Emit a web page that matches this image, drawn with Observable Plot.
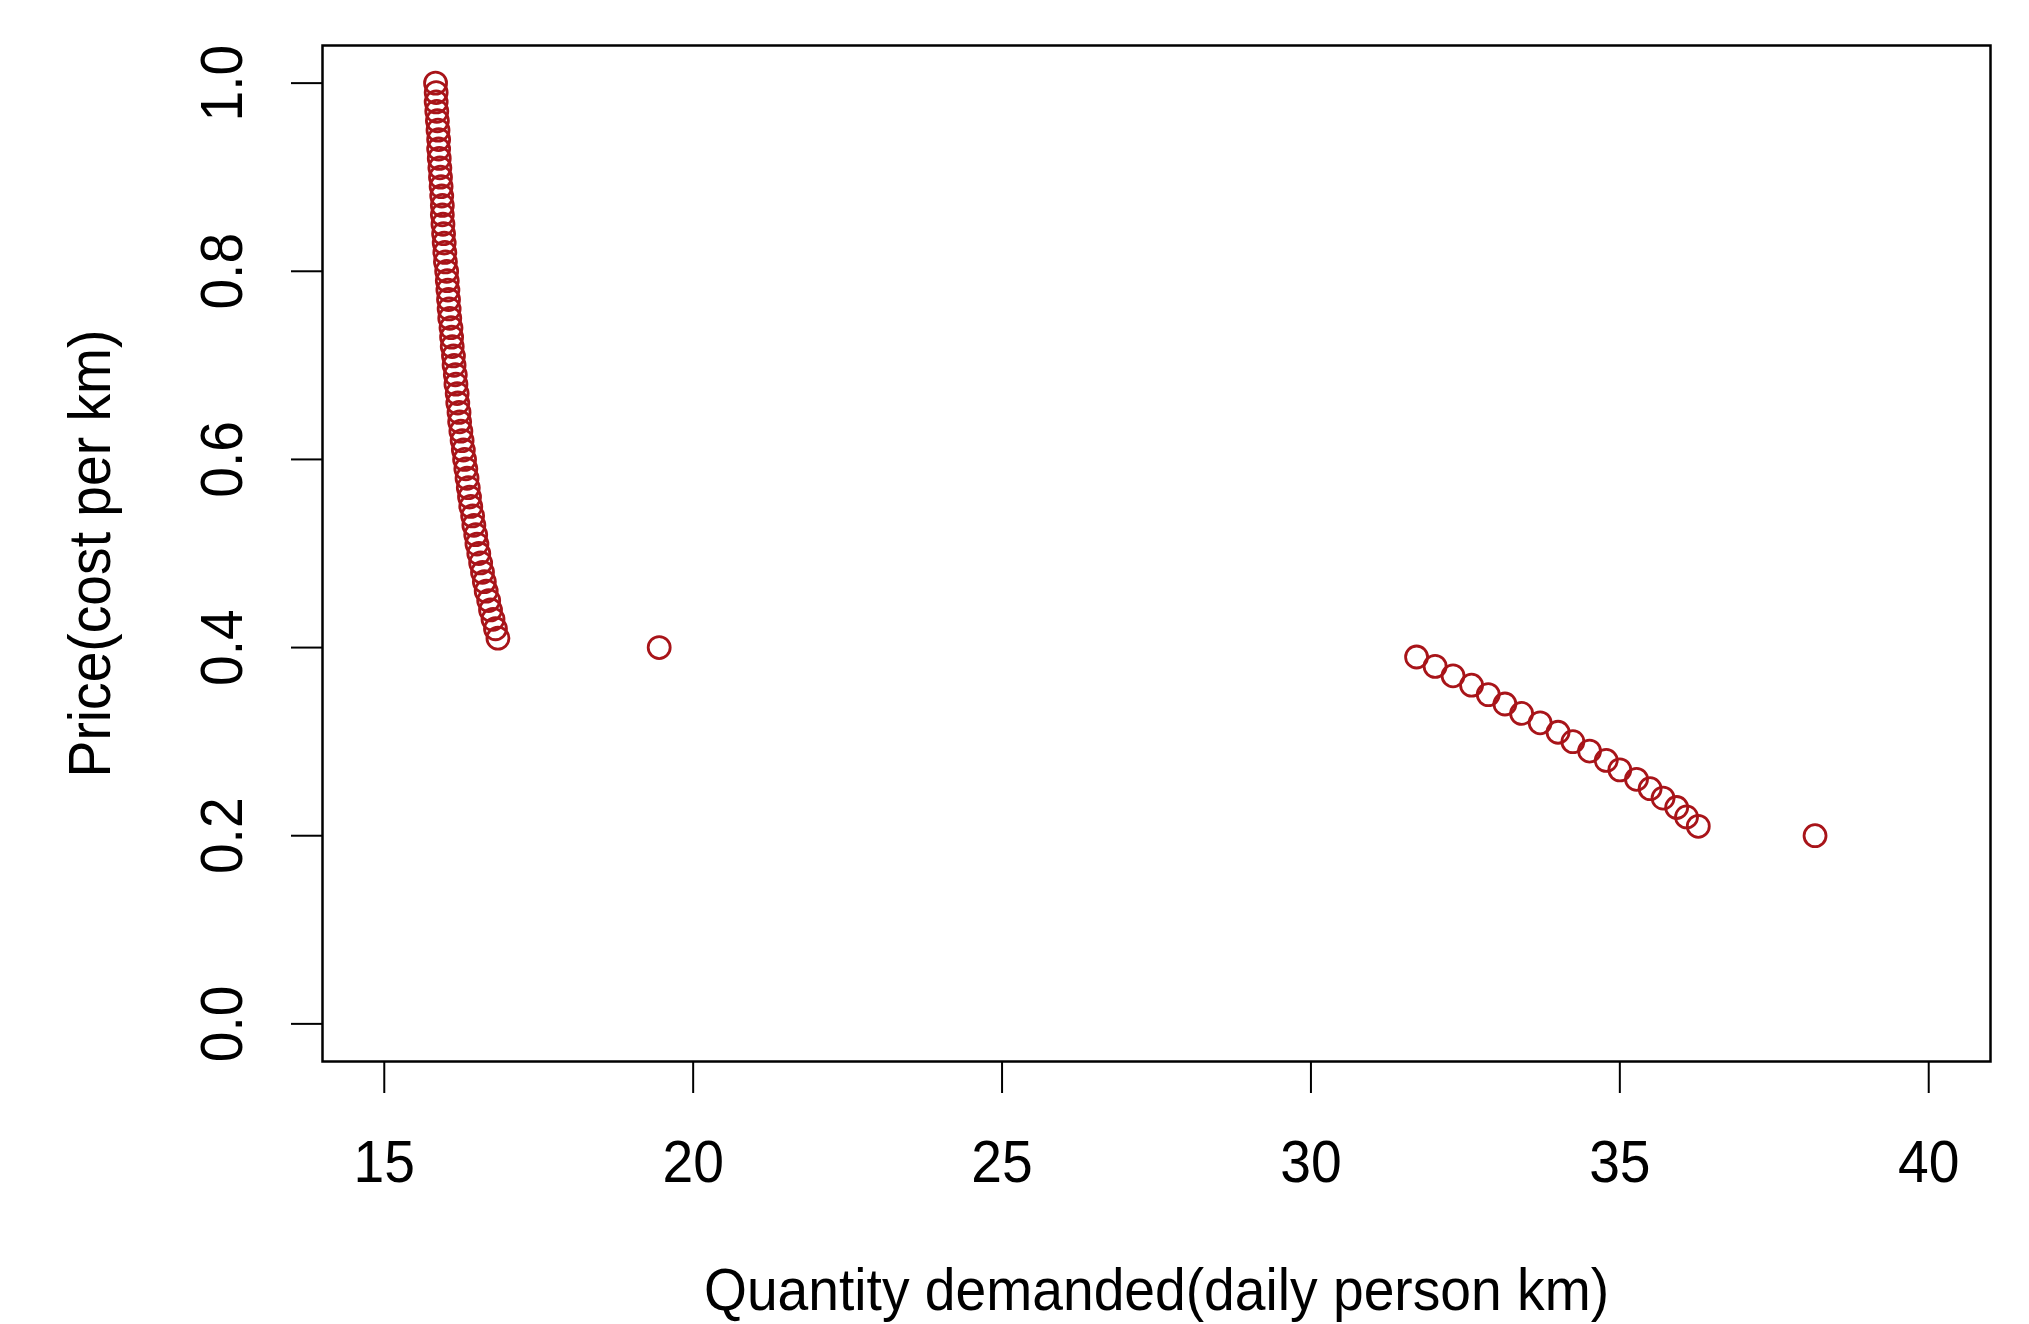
<!DOCTYPE html>
<html>
<head>
<meta charset="utf-8">
<script src="https://cdn.jsdelivr.net/npm/d3@7"></script>
<script src="https://cdn.jsdelivr.net/npm/@observablehq/plot@0.6"></script>
<style>
  html, body { margin: 0; padding: 0; background: #fff; }
  #chart svg { display: block; }
</style>
</head>
<body>
<div id="chart"></div>
<script>
// Price (cost per km) for each observation
const price = [
  1.00, 0.99, 0.98, 0.97, 0.96, 0.95, 0.94, 0.93, 0.92, 0.91,
  0.90, 0.89, 0.88, 0.87, 0.86, 0.85, 0.84, 0.83, 0.82, 0.81,
  0.80, 0.79, 0.78, 0.77, 0.76, 0.75, 0.74, 0.73, 0.72, 0.71,
  0.70, 0.69, 0.68, 0.67, 0.66, 0.65, 0.64, 0.63, 0.62, 0.61,
  0.60, 0.59, 0.58, 0.57, 0.56, 0.55, 0.54, 0.53, 0.52, 0.51,
  0.50, 0.49, 0.48, 0.47, 0.46, 0.45, 0.44, 0.43, 0.42, 0.41,
  0.40,
  0.39, 0.38, 0.37, 0.36, 0.35, 0.34, 0.33, 0.32, 0.31, 0.30,
  0.29, 0.28, 0.27, 0.26, 0.25, 0.24, 0.23, 0.22, 0.21,
  0.20
];
// Quantity demanded (daily person km) for each observation
const quantity = [
  15.83, 15.84, 15.84, 15.85, 15.86, 15.87, 15.88, 15.88, 15.89, 15.90,
  15.91, 15.92, 15.93, 15.94, 15.94, 15.95, 15.96, 15.97, 15.98, 15.99,
  16.01, 16.02, 16.03, 16.04, 16.05, 16.06, 16.08, 16.09, 16.10, 16.12,
  16.13, 16.15, 16.16, 16.18, 16.19, 16.21, 16.22, 16.24, 16.26, 16.28,
  16.30, 16.32, 16.34, 16.36, 16.38, 16.40, 16.43, 16.45, 16.48, 16.50,
  16.53, 16.56, 16.59, 16.62, 16.65, 16.69, 16.72, 16.76, 16.80, 16.84,
  19.45,
  31.71, 32.01, 32.30, 32.60, 32.87, 33.14, 33.41, 33.71, 34.00, 34.24,
  34.51, 34.78, 35.00, 35.27, 35.49, 35.70, 35.92, 36.08, 36.27,
  38.16
];
const xTicks = [15, 20, 25, 30, 35, 40];
const yTicks = [0.0, 0.2, 0.4, 0.6, 0.8, 1.0];
const xTitle = "Quantity demanded(daily person km)";
const yTitle = "Price(cost per km)";

const data = price.map((p, i) => ({price: p, quantity: quantity[i]}));

const font = "'Liberation Sans', Arial, sans-serif";
const pointColor = "#a81419";

const chart = Plot.plot({
  width: 2029,
  height: 1324,
  marginLeft: 322,
  marginRight: 39,
  marginTop: 45,
  marginBottom: 263,
  style: {fontFamily: font, background: "#fff", color: "#000"},
  x: {domain: [14, 41], label: null},
  y: {domain: [-0.04, 1.04], label: null},
  marks: [
    Plot.frame({stroke: "#000", strokeWidth: 2.5}),
    Plot.axisX({
      ticks: xTicks, tickSize: 32, tickPadding: 46, fontSize: 60,
      tickFormat: d => String(d), strokeWidth: 2, label: null
    }),
    Plot.axisY({
      ticks: yTicks, tickSize: 31, tickPadding: 50, fontSize: 60,
      tickRotate: -90, tickFormat: d3.format(".1f"), strokeWidth: 2, label: null
    }),
    Plot.dot(data, {
      x: "quantity", y: "price", r: 11,
      stroke: pointColor, strokeWidth: 2.8, fill: "none"
    }),
    Plot.text([xTitle], {
      frameAnchor: "bottom", dy: 229, lineAnchor: "middle", textAnchor: "middle",
      text: d => d, fontSize: 60, fill: "#000"
    }),
    Plot.text([yTitle], {
      frameAnchor: "left", dx: -232, rotate: -90, lineAnchor: "middle", textAnchor: "middle",
      text: d => d, fontSize: 60, fill: "#000"
    })
  ]
});
document.getElementById("chart").appendChild(chart);

// The reference uses a slightly condensed sans face: narrow each text a little.
chart.querySelectorAll("text").forEach(t => {
  const len = t.getComputedTextLength();
  if (len > 0) {
    t.setAttribute("textLength", (len * 0.92).toFixed(1));
    t.setAttribute("lengthAdjust", "spacingAndGlyphs");
  }
});
</script>
</body>
</html>
